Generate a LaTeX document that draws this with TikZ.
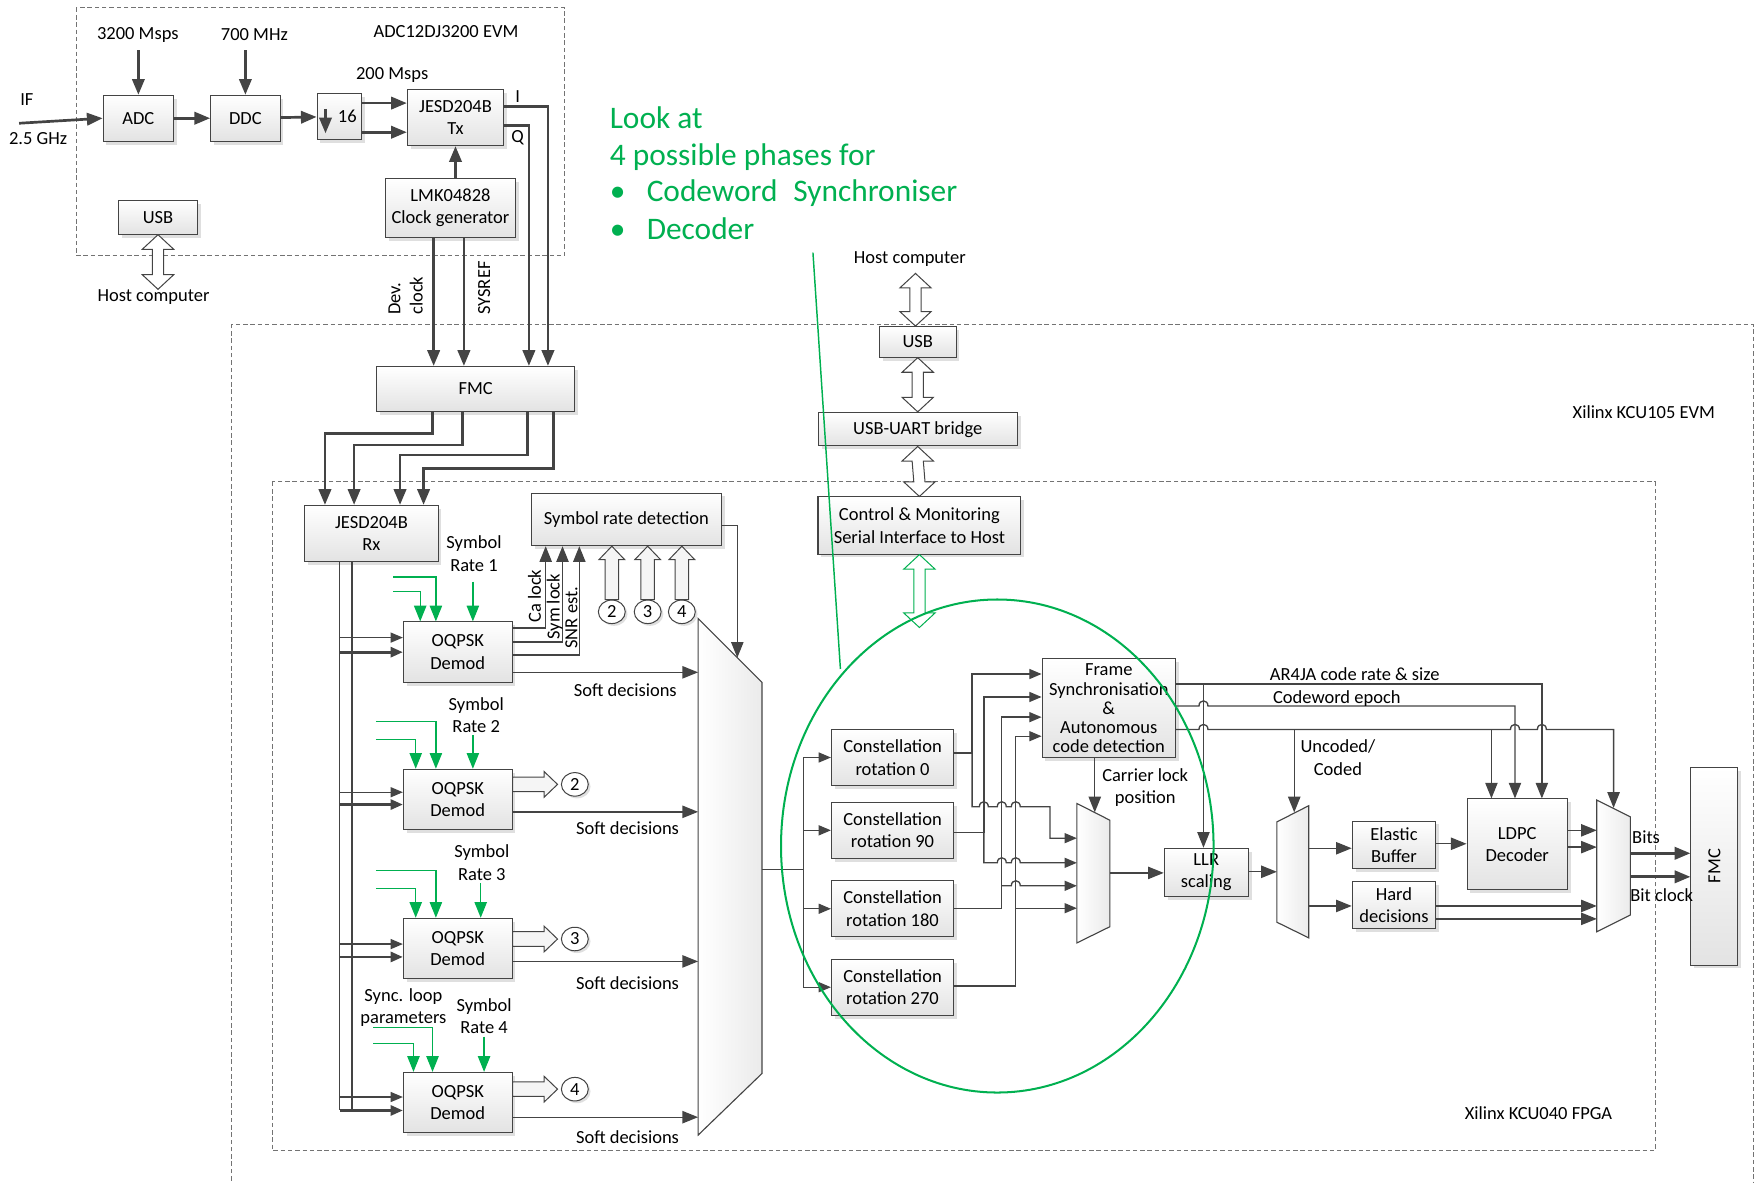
\documentclass[tikz,border=0pt]{standalone}
\usepackage{fontspec}
\setmainfont{Carlito}
\usetikzlibrary{arrows.meta,calc,shadows,shapes.geometric}
\definecolor{grn}{RGB}{0,176,80}
\definecolor{ln}{RGB}{68,68,68}
\tikzset{
  blk/.style={draw=ln, line width=0.9pt, top color=white, bottom color=black!11,
    drop shadow={shadow xshift=3pt, shadow yshift=-3pt, fill=black!25, opacity=0.5},
    align=center, inner sep=0pt},
  numc/.style={ellipse, draw=ln, line width=0.9pt, fill=white, minimum width=24pt,
    minimum height=21pt, inner sep=0pt,
    drop shadow={shadow xshift=2pt, shadow yshift=-2pt, fill=black!25, opacity=0.5}},
  lbl/.style={inner sep=0pt, align=center},
  gtxt/.style={text=grn, inner sep=0pt, font=\fontsize{28}{34}\selectfont},
  wire/.style={draw=ln, line width=1.2pt},
  bus/.style={draw=ln, line width=2.4pt},
  arw/.style={-{Triangle[length=11pt,width=9pt]}},
  barw/.style={-{Triangle[length=14pt,width=11pt]}},
  gwire/.style={draw=grn, line width=1.2pt, -{Triangle[length=14pt,width=11pt]}},
  hollow/.style={draw=ln, line width=0.9pt, fill=black!4},
  mux/.style={draw=ln, line width=1pt, left color=white, right color=black!8},
  board/.style={draw=black!55, line width=0.9pt, dash pattern=on 4pt off 2.5pt}
}
\newcommand{\lnhop}[2]{-- (#1-4,#2) .. controls (#1-4,#2-6) and (#1+4,#2-6) .. (#1+4,#2)}
\newcommand{\dblarr}[3][ln]{%
  \draw[#1, fill=white, line width=0.9pt] (#2) -- ($(#2)+(14,13)$) -- ($(#2)+(5,13)$)
    -- ($(#3)+(5,-13)$) -- ($(#3)+(14,-13)$) -- (#3) -- ($(#3)+(-14,-13)$)
    -- ($(#3)+(-5,-13)$) -- ($(#2)+(-5,13)$) -- ($(#2)+(-14,13)$) -- cycle;}
\newcommand{\uparr}[2]{%
  \draw[hollow] (#2) -- ($(#2)+(11.5,12)$) -- ($(#2)+(6,12)$) -- ($(#1)+(6,0)$)
    -- ($(#1)+(-6,0)$) -- ($(#2)+(-6,12)$) -- ($(#2)+(-11.5,12)$) -- cycle;}
\newcommand{\rtarr}[2]{%
  \draw[hollow] (#2) -- ($(#2)+(-12,-11.5)$) -- ($(#2)+(-12,-6.5)$) -- ($(#1)+(0,-6.5)$)
    -- ($(#1)+(0,6.5)$) -- ($(#2)+(-12,6.5)$) -- ($(#2)+(-12,11.5)$) -- cycle;}

\begin{document}
\begin{tikzpicture}[x=1pt, y=-1pt, font=\fontsize{16.5}{20}\selectfont]
    \useasboundingbox (0,0) rectangle (1568,1055);

    \draw[board] (68,7) rectangle (504,228);
    \draw[board] (207,1060) -- (207,290) -- (1565,290) -- (1565,1060);
    \draw[board] (243,430) rectangle (1477,1027);

    \node[lbl] (evm) at (398,28) {ADC12DJ3200 EVM};
    \node[lbl] (kcu105) at (1467,368) {Xilinx KCU105 EVM};
    \node[lbl] (kcu040) at (1373,993) {Xilinx KCU040 FPGA};

    \node[blk, minimum width=63pt, minimum height=41pt] (adc) at (123.5,105.5) {ADC};
    \node[blk, minimum width=62pt, minimum height=41pt] (ddc) at (219,105.5) {DDC};
    \node[blk, minimum width=40pt, minimum height=41pt] (dec) at (303,104) {};
    \node[lbl] (decn) at (310,103.5) {16};
    \node[blk, minimum width=86pt, minimum height=50pt] (jtx) at (406.5,105) {JESD204B\\Tx};
    \node[blk, minimum width=116pt, minimum height=53pt] (lmk) at (402,185.5) {LMK04828\\Clock generator};
    \node[blk, minimum width=70pt, minimum height=30pt] (usbl) at (141,194) {USB};

    \node[lbl] (msps) at (123,31) {3200 Msps};
    \node[lbl] (mhz) at (227,31) {700 MHz};
    \node[lbl] (iflab) at (24,89) {IF};
    \node[lbl] (ghz) at (34,124) {2.5 GHz};
    \node[lbl] (msps2) at (350,67) {200 Msps};
    \node[lbl] (ilab) at (462,86) {I};
    \node[lbl] (qlab) at (462,123) {Q};
    \node[lbl] (hostl) at (137,265) {Host computer};
    \node[lbl, rotate=90, anchor=west, align=left] (devclk) at (362,281) {Dev.\\clock};
    \node[lbl, rotate=90, anchor=west] (sysref) at (432,281) {SYSREF};

    \coordinate (ifin) at (17,110);
    \draw[bus,barw] (ifin) -- (adc.west);
    \draw[bus,barw] (adc.north |- 0,45) -- (adc.north);
    \draw[bus,barw] (ddc.north |- 0,45) -- (ddc.north);
    \draw[bus,barw] (adc) -- (ddc);
    \draw[bus,barw] (ddc) -- (dec);
    \draw[bus,barw] ($(dec.north)+(-12.5,14)$) -- ($(dec.south)+(-12.5,-6)$);
    \draw[bus,barw] (dec.east |- 0,92) -- (jtx.west |- 0,92);
    \draw[bus,barw] (dec.east |- 0,118) -- (jtx.west |- 0,118);
    \draw[bus,barw] (jtx.south |- lmk.north) -- (jtx.south);
    \coordinate (hl) at (usbl.south |- hostl.north);
    \dblarr{usbl.south}{hl}

    \node[blk, minimum width=177pt, minimum height=40pt] (fmc1) at (424.5,347) {FMC};
    \node[blk, minimum width=119pt, minimum height=50pt] (jrx) at (331.5,476) {JESD204B\\Rx};

    \draw[bus,barw] (jtx.east |- 0,95) -| (fmc1.north -| 489,0);
    \draw[bus,barw] (jtx.east |- 0,112) -| (fmc1.north -| 472,0);
    \draw[bus,barw] (lmk.south -| 387,0) -- (fmc1.north -| 387,0);
    \draw[bus,barw] (lmk.south -| 414,0) -- (fmc1.north -| 414,0);

    \draw[bus,barw] (fmc1.south -| 386,0) |- (290,387) -- (jrx.north -| 290,0);
    \draw[bus,barw] (fmc1.south -| 413,0) |- (316,397) -- (jrx.north -| 316,0);
    \draw[bus,barw] (fmc1.south -| 471,0) |- (357,406) -- (jrx.north -| 357,0);
    \draw[bus,barw] (fmc1.south -| 494,0) |- (378,418) -- (jrx.north -| 378,0);

    \node[lbl] (hostr) at (812,231) {Host computer};
    \node[blk, minimum width=68.5pt, minimum height=27.5pt] (usbr) at (819,305) {USB};
    \node[blk, minimum width=177.5pt, minimum height=30pt] (uart) at (819,383) {USB-UART bridge};
    \node[blk, minimum width=181pt, minimum height=51pt] (ctrl) at (820.5,469) {Control \& Monitoring\\Serial Interface to Host};
    \coordinate (hr) at (817,244);
    \coordinate (usbrn) at (817,291);
    \dblarr{hr}{usbrn}
    \dblarr{usbr.south}{uart.north}
    \dblarr{uart.south}{ctrl.north}
    \coordinate (gend) at (820.5,560);
    \dblarr[grn]{ctrl.south}{gend}

    \node[blk, minimum width=170pt, minimum height=47pt] (srd) at (559,463.5) {Symbol rate detection};
    \node[blk, minimum width=97pt, minimum height=54pt] (dem1) at (408.5,582) {OQPSK\\Demod};
    \node[blk, minimum width=97pt, minimum height=54pt] (dem2) at (408.5,713.5) {OQPSK\\Demod};
    \node[blk, minimum width=97pt, minimum height=54pt] (dem3) at (408.5,846.5) {OQPSK\\Demod};
    \node[blk, minimum width=97pt, minimum height=54pt] (dem4) at (408.5,984) {OQPSK\\Demod};

    \draw[wire] (jrx.south -| 303,0) -- (303,991);
    \draw[bus] (jrx.south -| 314,0) -- (314,991);
    \draw[wire,arw] (303,569) -- (dem1.west |- 0,569);
    \draw[bus,arw] (303,582) -- (dem1.west |- 0,582);
    \draw[wire,arw] (303,707) -- (dem2.west |- 0,707);
    \draw[bus,arw] (303,718) -- (dem2.west |- 0,718);
    \draw[wire,arw] (303,842.5) -- (dem3.west |- 0,842.5);
    \draw[bus,arw] (303,854) -- (dem3.west |- 0,854);
    \draw[wire,arw] (303,979) -- (dem4.west |- 0,979);
    \draw[bus,arw] (303,991) -- (dem4.west |- 0,991);

    \node[lbl] (sr1) at (423,494) {Symbol\\Rate 1};
    \node[lbl] (sr2) at (425,638) {Symbol\\Rate 2};
    \node[lbl] (sr3) at (430,770) {Symbol\\Rate 3};
    \node[lbl] (sr4) at (432,907) {Symbol\\Rate 4};
    \node[lbl] (loop) at (360,899) {Sync. loop\\parameters};

    \draw[gwire] (351,515) -| (dem1.north -| 389,0);
    \draw[gwire] (351,528) -| (dem1.north -| 375,0);
    \draw[gwire] (422,519) -- (dem1.north -| 422,0);
    \draw[gwire] (335.5,644) -| (dem2.north -| 389,0);
    \draw[gwire] (335.5,660) -| (dem2.north -| 371,0);
    \draw[gwire] (422,656) -- (dem2.north -| 422,0);
    \draw[gwire] (335.5,777) -| (dem3.north -| 389,0);
    \draw[gwire] (335.5,793) -| (dem3.north -| 371,0);
    \draw[gwire] (429,788) -- (dem3.north -| 429,0);
    \draw[gwire] (333,917) -| (dem4.north -| 386,0);
    \draw[gwire] (333,931) -| (dem4.north -| 369,0);
    \draw[gwire] (432,925) -- (dem4.north -| 432,0);

    \draw[wire,barw] (dem1.east |- 0,560.5) -| (srd.south -| 487,0);
    \draw[wire,barw] (dem1.east |- 0,573) -| (srd.south -| 502,0);
    \draw[wire,barw] (dem1.east |- 0,584.5) -| (srd.south -| 517,0);
    \node[lbl, rotate=90, anchor=west] (calock) at (477,556) {Ca lock};
    \node[lbl, rotate=90, anchor=west] (symlock) at (495,571) {Sym lock};
    \node[lbl, rotate=90, anchor=west] (snr) at (510,579) {SNR est.};

    \node[numc] (n2) at (546,546) {2};
    \node[numc] (n3) at (578,546) {3};
    \node[numc] (n4) at (608.5,546) {4};
    \coordinate (u2) at (n2.north |- srd.south);
    \coordinate (u3) at (n3.north |- srd.south);
    \coordinate (u4) at (n4.north |- srd.south);
    \uparr{n2.north}{u2}
    \uparr{n3.north}{u3}
    \uparr{n4.north}{u4}

    \node[numc] (m2) at (513,700) {2};
    \node[numc] (m3) at (513,838) {3};
    \node[numc] (m4) at (513,972) {4};
    \coordinate (r2b) at (dem2.east |- m2.west);
    \coordinate (r3b) at (dem3.east |- m3.west);
    \coordinate (r4b) at (dem4.east |- m4.west);
    \coordinate (r2t) at ($(m2.west)+(-3,0)$);
    \coordinate (r3t) at ($(m3.west)+(-3,0)$);
    \coordinate (r4t) at ($(m4.west)+(-3,0)$);
    \rtarr{r2b}{r2t}
    \rtarr{r3b}{r3t}
    \rtarr{r4b}{r4t}

    \draw[mux] (623,552) -- (680,609) -- (680,958) -- (623,1013) -- cycle;
    \draw[wire,barw] (dem1.east |- 0,600) -- (623,600);
    \draw[wire,barw] (dem2.east |- 0,724.5) -- (623,724.5);
    \draw[wire,barw] (dem3.east |- 0,858) -- (623,858);
    \draw[wire,barw] (dem4.east |- 0,997) -- (623,997);
    \node[lbl] (sd1) at (558,616) {Soft decisions};
    \node[lbl] (sd2) at (560,739) {Soft decisions};
    \node[lbl] (sd3) at (560,877) {Soft decisions};
    \node[lbl] (sd4) at (560,1015) {Soft decisions};
    \draw[wire,barw] (srd.east |- 0,469) -| (658,587);

    \node[blk, minimum width=109pt, minimum height=50pt] (rot0) at (796.5,676) {Constellation\\rotation 0};
    \node[blk, minimum width=109pt, minimum height=50pt] (rot1) at (796.5,741) {Constellation\\rotation 90};
    \node[blk, minimum width=109pt, minimum height=50pt] (rot2) at (796.5,811) {Constellation\\rotation 180};
    \node[blk, minimum width=109pt, minimum height=50pt] (rot3) at (796.5,881) {Constellation\\rotation 270};
    \draw[wire] (680,776) -- (717,776);
    \draw[wire,arw] (717,776) |- (rot0.west);
    \draw[wire,arw] (717,776) |- (rot1.west);
    \draw[wire,arw] (717,776) |- (rot2.west);
    \draw[wire,arw] (717,776) |- (rot3.west);

    \node[blk, minimum width=119pt, minimum height=88pt, font=\fontsize{16.5}{17}\selectfont] (fsync) at (989.5,632) {Frame\\Synchronisation\\\&\\Autonomous\\code detection};
    \draw[mux] (961,717) -- (990.5,732) -- (990.5,827) -- (961,841.5) -- cycle;

    \draw[wire,arw] (rot0.east |- 0,672) -- (867.5,672) |- (fsync.west |- 0,601.5);
    \draw[wire,arw] (rot1.east |- 0,743) -- (878,743) |- (fsync.west |- 0,622);
    \draw[wire,arw] (rot2.east |- 0,810.5) -- (894,810.5) |- (fsync.west |- 0,640);
    \draw[wire,arw] (rot3.east |- 0,880) -- (906.5,880) |- (fsync.west |- 0,657);
    \draw[wire,arw] (867.5,672) -- (867.5,720) \lnhop{878}{720} \lnhop{894}{720} \lnhop{906.5}{720} -- (937,720) |- (961,748);
    \draw[wire,arw] (878,743) -- (878,770) \lnhop{894}{770} \lnhop{906.5}{770} -- (961,770);
    \draw[wire,arw] (894,790.5) \lnhop{906.5}{790.5} -- (961,790.5);
    \draw[wire,arw] (906.5,810.5) -- (961,810.5);

    \draw[wire,barw] (fsync.south -| 977,0) -- (977,725);
    \node[lbl] (clock) at (1022,703) {Carrier lock\\position};

    \node[blk, minimum width=75pt, minimum height=43pt] (llr) at (1076.5,778.5) {LLR\\scaling};
    \draw[wire,barw] (990.5,779) -- (llr.west |- 0,779);

    \node[blk, minimum width=74.5pt, minimum height=42.5pt] (ebuf) at (1244,754) {Elastic\\Buffer};
    \node[blk, minimum width=74.5pt, minimum height=42pt] (hard) at (1244,808) {Hard\\decisions};
    \node[blk, minimum width=89.5pt, minimum height=81pt] (ldpc) at (1354,753.5) {LDPC\\Decoder};
    \node[blk, minimum width=42pt, minimum height=176.5pt] (fmc2) at (1530,773) {};
    \node[lbl, rotate=90] (fmc2t) at (fmc2) {FMC};

    \draw[wire,barw] (fsync.east |- 0,610.5) -| (ldpc.north -| 1376,0);
    \draw[wire,barw] (1074,610.5) -- (llr.north -| 1074,0);
    \draw[wire,barw] (fsync.east |- 0,630) \lnhop{1074}{630} -| (ldpc.north -| 1352,0);
    \draw[wire,barw] (fsync.east |- 0,651) \lnhop{1074}{651} -- (1348,651) \lnhop{1352}{651} \lnhop{1376}{651} -| (1440,721);
    \draw[wire,barw] (1155,651) -- (1155,725);
    \draw[wire,barw] (1331,651) -- (ldpc.north -| 1331,0);
    \node[lbl] (ar4ja) at (1209,601.5) {AR4JA code rate \& size};
    \node[lbl] (epoch) at (1193,623) {Codeword epoch};
    \node[lbl] (uncoded) at (1194,676) {Uncoded/\\Coded};

    \draw[mux] (1139.5,733.5) -- (1168,719) -- (1168,837) -- (1139.5,823) -- cycle;
    \draw[wire,barw] (llr.east |- 0,778) -- (1139.5,778);
    \draw[wire,barw] (1168,757) -- (ebuf.west |- 0,757);
    \draw[wire,barw] (1168,808.5) -- (hard.west |- 0,808.5);
    \draw[wire,barw] (ebuf.east |- 0,753) -- (ldpc.west |- 0,753);

    \draw[mux] (1425,714) -- (1455,729) -- (1455,816.5) -- (1425,831.5) -- cycle;
    \draw[wire,barw] (ldpc.east |- 0,741) -- (1425,741);
    \draw[wire,barw] (ldpc.east |- 0,756) -- (1425,756);
    \draw[wire,barw] (hard.east |- 0,808.5) -- (1425,808.5);
    \draw[wire,barw] (hard.east |- 0,820) -- (1425,820);
    \draw[bus,barw] (1455,761.5) -- (fmc2.west |- 0,761.5);
    \draw[bus,barw] (1455,782.5) -- (fmc2.west |- 0,782.5);
    \node[lbl] (bits) at (1469,747) {Bits};
    \node[lbl] (bitclk) at (1483,799) {Bit clock};

    \node[gtxt, anchor=base west] (g1) at (544,114.5) {Look at};
    \node[gtxt, anchor=base west] (g2) at (544,147.5) {4 possible phases for};
    \node[gtxt, anchor=base west] (g3) at (544,180) {\makebox[33pt][l]{\textbullet}Codeword\hspace{14pt}Synchroniser};
    \node[gtxt, anchor=base west] (g4) at (544,213.5) {\makebox[33pt][l]{\textbullet}Decoder};
    \coordinate (gl1) at (725.5,225.5);
    \coordinate (gl2) at (750,597);
    \draw[grn, line width=1.3pt] (gl1) -- (gl2);
    \draw[grn, line width=1.8pt] (890,755) ellipse [x radius=193, y radius=220];
\end{tikzpicture}
\end{document}
